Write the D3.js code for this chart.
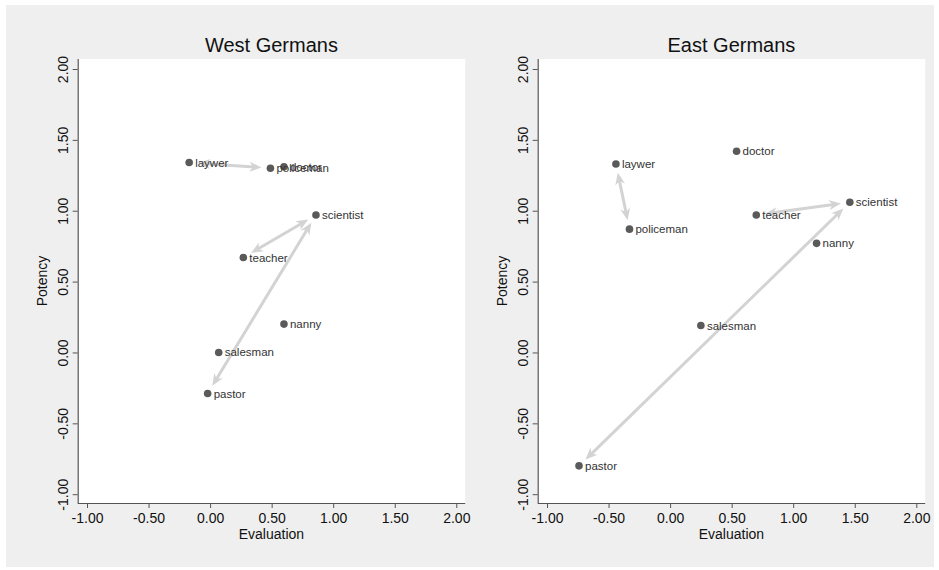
<!DOCTYPE html>
<html>
<head>
<meta charset="utf-8">
<script src="https://cdn.jsdelivr.net/npm/d3@7"></script>
<style>
  html, body { margin: 0; padding: 0; background: #ffffff; }
  svg { display: block; font-family: Arial, "Liberation Sans", sans-serif; }
</style>
</head>
<body>
<svg id="chart" width="939" height="570"></svg>
<script>
// Occupations shown in both panels
const occupations = ["laywer", "policeman", "doctor", "scientist", "teacher", "nanny", "salesman", "pastor"];

// West Germans: evaluation (x) and potency (y)
const westEvaluation = [-0.17, 0.49, 0.60, 0.86, 0.27, 0.60, 0.07, -0.02];
const westPotency    = [1.34, 1.30, 1.31, 0.97, 0.67, 0.20, 0.00, -0.29];

// East Germans: evaluation (x) and potency (y)
const eastEvaluation = [-0.44, -0.33, 0.54, 1.46, 0.70, 1.19, 0.25, -0.74];
const eastPotency    = [1.33, 0.87, 1.42, 1.06, 0.97, 0.77, 0.19, -0.80];

// Pairs joined by double-headed arrows
const arrowPairs = [["laywer", "policeman"], ["teacher", "scientist"], ["scientist", "pastor"]];

const tickValues = [-1.00, -0.50, 0.00, 0.50, 1.00, 1.50, 2.00];
const panelTitles = ["West Germans", "East Germans"];

const svg = d3.select("#chart");

// gray outer panel
svg.append("rect")
  .attr("x", 6).attr("y", 5).attr("width", 928).attr("height", 562)
  .attr("fill", "#efefef");

const panels = [
  { title: panelTitles[0], ex: westEvaluation, po: westPotency, left: 77.7 },
  { title: panelTitles[1], ex: eastEvaluation, po: eastPotency, left: 537.7 }
];

const plotTop = 59, plotBottom = 503, plotWidth = 387.5;
const fmt2 = d3.format(".2f");
const fmt = v => fmt2(v).replace("\u2212", "-");

panels.forEach(p => {
  const x = d3.scaleLinear().domain([-1, 2]).range([p.left + 9.3, p.left + 378.6]);
  const y = d3.scaleLinear().domain([-1, 2]).range([494.2, 69]);

  const g = svg.append("g");

  g.append("rect")
    .attr("x", p.left).attr("y", plotTop)
    .attr("width", plotWidth).attr("height", plotBottom - plotTop)
    .attr("fill", "#ffffff");

  // axes
  const xAxis = d3.axisBottom(x).tickValues(tickValues).tickFormat(fmt).tickSize(5).tickSizeOuter(0);
  const yAxis = d3.axisLeft(y).tickValues(tickValues).tickFormat(fmt).tickSize(5).tickSizeOuter(0);

  const gx = g.append("g").attr("transform", `translate(0,${plotBottom})`).call(xAxis);
  gx.select(".domain").attr("d", `M${p.left},0.5H${p.left + plotWidth}`);
  const gy = g.append("g").attr("transform", `translate(${p.left},0)`).call(yAxis);
  gy.select(".domain").attr("d", `M0.5,${plotTop}V${plotBottom}`);

  [gx, gy].forEach(a => {
    a.selectAll(".domain").attr("stroke", "#555").attr("stroke-width", 1.2);
    a.selectAll(".tick line").attr("stroke", "#555");
    a.selectAll(".tick text").attr("fill", "#111").attr("font-size", 14)
      .attr("font-family", "Arial, 'Liberation Sans', sans-serif");
  });
  gx.selectAll(".tick text").attr("y", 10).attr("dy", "0.71em");
  gy.selectAll(".tick text")
    .attr("transform", "rotate(-90)")
    .attr("x", 0).attr("y", -10).attr("dy", 0)
    .attr("text-anchor", "middle");

  // titles
  g.append("text")
    .attr("x", p.left + plotWidth / 2).attr("y", 52)
    .attr("text-anchor", "middle").attr("font-size", 20).attr("fill", "#111")
    .text(p.title);
  g.append("text")
    .attr("x", p.left + plotWidth / 2).attr("y", 539)
    .attr("text-anchor", "middle").attr("font-size", 14).attr("fill", "#111")
    .text("Evaluation");
  g.append("text")
    .attr("transform", `translate(${p.left - 31},${(plotTop + plotBottom) / 2}) rotate(-90)`)
    .attr("text-anchor", "middle").attr("font-size", 14).attr("fill", "#111")
    .text("Potency");

  const pts = occupations.map((name, i) => ({ name, px: x(p.ex[i]), py: y(p.po[i]) }));
  const byName = Object.fromEntries(pts.map(d => [d.name, d]));

  // double-headed arrows, shortened at each end
  const gap = 9, headLen = 12, headHalf = 5;
  arrowPairs.forEach(([a, b]) => {
    const A = byName[a], B = byName[b];
    const dx = B.px - A.px, dy = B.py - A.py;
    const len = Math.hypot(dx, dy);
    const ux = dx / len, uy = dy / len;
    const sx = A.px + ux * gap, sy = A.py + uy * gap;
    const tx = B.px - ux * gap, ty = B.py - uy * gap;
    g.append("line")
      .attr("x1", sx + ux * headLen * 0.6).attr("y1", sy + uy * headLen * 0.6)
      .attr("x2", tx - ux * headLen * 0.6).attr("y2", ty - uy * headLen * 0.6)
      .attr("stroke", "#d3d3d3").attr("stroke-width", 3);
    [[tx, ty, ux, uy], [sx, sy, -ux, -uy]].forEach(([hx, hy, vx, vy]) => {
      const bx = hx - vx * headLen, by = hy - vy * headLen;
      const nx = -vy, ny = vx;
      g.append("path")
        .attr("d", `M${hx},${hy}L${bx + nx * headHalf},${by + ny * headHalf}L${hx - vx * headLen * 0.7},${hy - vy * headLen * 0.7}L${bx - nx * headHalf},${by - ny * headHalf}Z`)
        .attr("fill", "#d3d3d3");
    });
  });

  // markers
  g.selectAll("circle.pt").data(pts).enter().append("circle")
    .attr("class", "pt")
    .attr("cx", d => d.px).attr("cy", d => d.py).attr("r", 3.8)
    .attr("fill", "#5a5a5a");

  // labels
  g.selectAll("text.lbl").data(pts).enter().append("text")
    .attr("class", "lbl")
    .attr("x", d => d.px + 6).attr("y", d => d.py)
    .attr("dy", "0.35em").attr("font-size", 11.5).attr("fill", "#333")
    .text(d => d.name);
});
</script>
</body>
</html>
